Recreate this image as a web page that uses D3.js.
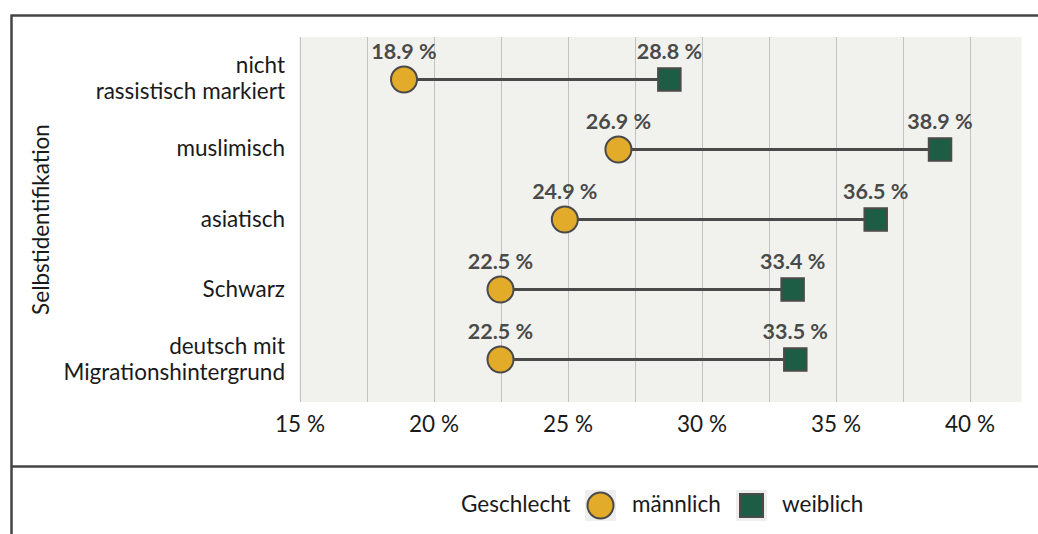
<!DOCTYPE html>
<html>
<head>
<meta charset="utf-8">
<script src="https://cdn.jsdelivr.net/npm/d3@7"></script>
<style>
  html, body { margin: 0; padding: 0; background: #ffffff; }
  svg { display: block; }
  text { font-family: Lato, "Open Sans", sans-serif; }
</style>
</head>
<body>
<svg id="chart" width="1038" height="534"></svg>
<script>
// Groups (top to bottom), label lines per group
const categories = [
  ["nicht", "rassistisch markiert"],
  ["muslimisch"],
  ["asiatisch"],
  ["Schwarz"],
  ["deutsch mit", "Migrationshintergrund"]
];
const maleValues   = [18.9, 26.9, 24.9, 22.5, 22.5];
const femaleValues = [28.8, 38.9, 36.5, 33.4, 33.5];
const tickValues = [15, 20, 25, 30, 35, 40];
const gridValues = [15, 17.5, 20, 22.5, 25, 27.5, 30, 32.5, 35, 37.5, 40];
const seriesNames = ["männlich", "weiblich"];
const legendTitle = "Geschlecht";
const axisTitle = "Selbstidentifikation";

const svg = d3.select("#chart");
const W = 1038, H = 534;

const panel = { left: 299.5, right: 1021.5, top: 37, bottom: 402 };
const colors = { male: "#e3ab2a", female: "#1e5d45", stroke: "#4a4a4a", grid: "#c2c2c2", bg: "#f1f2ee", frame: "#444444", text: "#1a1a1a", label: "#4a4a4a" };
const fs = 22.5;

const x = d3.scaleLinear().domain([15, 41.94]).range([panel.left, panel.right]);
const y = d3.scaleBand().domain(d3.range(categories.length)).range([panel.top, panel.bottom]).paddingOuter(0.107).paddingInner(0);
const yc = i => y(i) + y.bandwidth() / 2;

const fmt = v => d3.format(".1f")(v) + " %";

// frame lines
svg.append("line").attr("x1", 11.5).attr("x2", W).attr("y1", 15.5).attr("y2", 15.5)
  .attr("stroke", colors.frame).attr("stroke-width", 2.5);
svg.append("line").attr("x1", 11.5).attr("x2", 11.5).attr("y1", 14.5).attr("y2", H)
  .attr("stroke", colors.frame).attr("stroke-width", 2.5);
svg.append("line").attr("x1", 11.5).attr("x2", W).attr("y1", 466.5).attr("y2", 466.5)
  .attr("stroke", colors.frame).attr("stroke-width", 2.5);

// panel background
svg.append("rect").attr("x", panel.left).attr("y", panel.top)
  .attr("width", panel.right - panel.left).attr("height", panel.bottom - panel.top)
  .attr("fill", colors.bg);

// grid
svg.append("g").selectAll("line").data(gridValues).join("line")
  .attr("x1", d => Math.round(x(d)) + 0.5).attr("x2", d => Math.round(x(d)) + 0.5)
  .attr("y1", panel.top).attr("y2", panel.bottom)
  .attr("stroke", colors.grid).attr("stroke-width", 1);

// x axis labels
const xAxis = d3.axisBottom(x).tickValues(tickValues).tickSize(0).tickPadding(0)
  .tickFormat(d => d + " %");
const gx = svg.append("g").attr("transform", `translate(0,${panel.bottom})`).call(xAxis);
gx.select(".domain").remove();
gx.selectAll("text").attr("font-size", fs).attr("fill", colors.text)
  .attr("dy", null).attr("y", 30).attr("font-family", "Lato, sans-serif");

// category labels
const cat = svg.append("g");
categories.forEach((lines, i) => {
  const n = lines.length;
  const t = cat.append("text").attr("text-anchor", "end").attr("font-size", fs).attr("fill", colors.text);
  lines.forEach((ln, k) => {
    t.append("tspan").attr("x", 285)
      .attr("y", yc(i) + 7 + (k - (n - 1) / 2) * 26)
      .text(ln);
  });
});

// axis title
svg.append("text").attr("transform", `translate(49,${(panel.top + panel.bottom) / 2}) rotate(-90)`)
  .attr("text-anchor", "middle").attr("font-size", fs).attr("fill", colors.text).text(axisTitle);

// dumbbell connectors
const rows = categories.map((c, i) => ({ i, m: maleValues[i], f: femaleValues[i] }));
svg.append("g").selectAll("line").data(rows).join("line")
  .attr("x1", d => x(d.m)).attr("x2", d => x(d.f))
  .attr("y1", d => yc(d.i)).attr("y2", d => yc(d.i))
  .attr("stroke", colors.stroke).attr("stroke-width", 3);

// male points
svg.append("g").selectAll("circle").data(rows).join("circle")
  .attr("cx", d => x(d.m)).attr("cy", d => yc(d.i)).attr("r", 13)
  .attr("fill", colors.male).attr("stroke", colors.stroke).attr("stroke-width", 2);

// female points
const sq = 22.5;
svg.append("g").selectAll("rect").data(rows).join("rect")
  .attr("x", d => x(d.f) - sq / 2).attr("y", d => yc(d.i) - sq / 2)
  .attr("width", sq).attr("height", sq)
  .attr("fill", colors.female).attr("stroke", colors.stroke).attr("stroke-width", 2);

// value labels
const lab = svg.append("g").attr("font-weight", "bold").attr("font-size", 21.5)
  .attr("fill", colors.label).attr("text-anchor", "middle");
lab.selectAll("text.m").data(rows).join("text").attr("class", "m")
  .attr("x", d => x(d.m)).attr("y", d => yc(d.i) - 20.5).text(d => fmt(d.m));
lab.selectAll("text.f").data(rows).join("text").attr("class", "f")
  .attr("x", d => x(d.f)).attr("y", d => yc(d.i) - 20.5).text(d => fmt(d.f));

// legend
const lg = svg.append("g");
const ly = 505.5;
lg.append("text").attr("x", 461).attr("y", ly + 6.5).attr("font-size", fs).attr("fill", colors.text).text(legendTitle);
lg.append("rect").attr("x", 585).attr("y", ly - 15.5).attr("width", 31).attr("height", 31).attr("fill", "#eeeeee");
lg.append("circle").attr("cx", 600.5).attr("cy", ly).attr("r", 13)
  .attr("fill", colors.male).attr("stroke", colors.stroke).attr("stroke-width", 2);
lg.append("text").attr("x", 632).attr("y", ly + 6.5).attr("font-size", fs).attr("fill", colors.text).text(seriesNames[0]);
lg.append("rect").attr("x", 736).attr("y", ly - 15.5).attr("width", 31).attr("height", 31).attr("fill", "#eeeeee");
lg.append("rect").attr("x", 751.5 - 11.5).attr("y", ly - 11.5).attr("width", 23).attr("height", 23)
  .attr("fill", colors.female).attr("stroke", colors.stroke).attr("stroke-width", 2);
lg.append("text").attr("x", 782).attr("y", ly + 6.5).attr("font-size", fs).attr("fill", colors.text).text(seriesNames[1]);
</script>
</body>
</html>
